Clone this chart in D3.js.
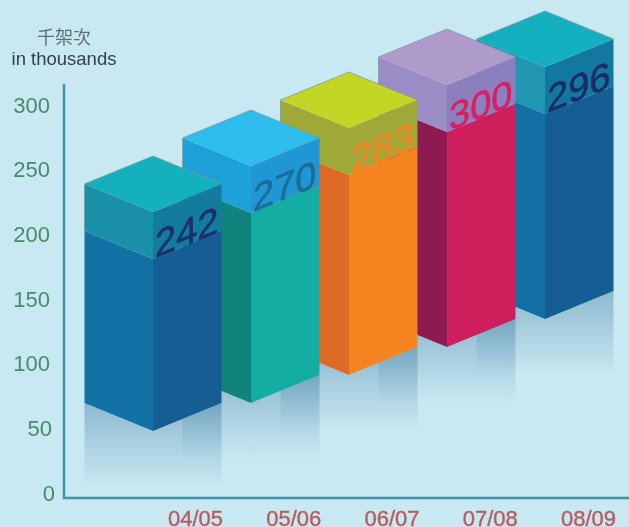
<!DOCTYPE html>
<html>
<head>
<meta charset="utf-8">
<script src="https://cdn.jsdelivr.net/npm/d3@7"></script>
<style>
    html, body { margin: 0; padding: 0; background: #c8e8f2; overflow: hidden; }
    svg { display: block; filter: blur(0.4px); }
    text { font-family: "Liberation Sans", Arial, sans-serif; }
</style>
</head>
<body>
<div id="chart"></div>
<script>
var svgWidth = 629;
var svgHeight = 527;

// Chart data
var categories = ["04/05", "05/06", "06/07", "07/08", "08/09"];
var values = [242, 270, 283, 300, 296];
var yTicks = [0, 50, 100, 150, 200, 250, 300];

// Colours per bar: top, cap left, cap right, body left, body right, label
var topColors = ["#14b0bb", "#2dbcec", "#c2d725", "#af9bcb", "#14b0bf"];
var capLeftColors = ["#1a8fa8", "#1ea0d8", "#9fa935", "#9a8cc4", "#2096b0"];
var capRightColors = ["#137c9c", "#2096d4", "#a0a83a", "#8b7fbd", "#12789f"];
var bodyLeftColors = ["#1271a5", "#10837c", "#dd6b27", "#8e1a52", "#1270a5"];
var bodyRightColors = ["#165d94", "#14ada3", "#f58420", "#cf1e5c", "#155d94"];
var labelColors = ["#1c2e6e", "#176f97", "#f58420", "#d91f62", "#1c2a68"];

var halfWidth = 68.5;
var rise = 28;
var capHeight = 47;
var fadeLength = 83;

var svg = d3.select("#chart")
    .append("svg")
    .attr("width", svgWidth)
    .attr("height", svgHeight);

// The bars step back up the page, so they have their own scales, not the axis one
var xScale = d3.scalePoint().domain(categories).range([153, 545]);
var baseScale = d3.scalePoint().domain(categories).range([431, 319]);
var heightScale = d3.scaleLinear()
    .domain([242, 270, 283, 296, 300])
    .range([219, 237, 247, 252, 262]);
var yScale = d3.scaleLinear().domain([0, 300]).range([493, 105]);
var labelScale = d3.scalePoint().domain(categories).range([195, 588]);

var skew = Math.atan2(-rise, halfWidth) * 180 / Math.PI;

var gradient = svg.append("defs").append("linearGradient")
    .attr("id", "fade")
    .attr("x1", 0).attr("y1", 0)
    .attr("x2", 0).attr("y2", 1);
gradient.append("stop").attr("offset", "0%").attr("stop-color", "#3c78a0").attr("stop-opacity", 0.42);
gradient.append("stop").attr("offset", "100%").attr("stop-color", "#3c78a0").attr("stop-opacity", 0);

function points(list) {
    return list.map(p => p.join(",")).join(" ");
}

var bars = categories.map((c, i) => {
    var mid = xScale(c);
    var frontBase = baseScale(c);
    var frontTop = frontBase - heightScale(values[i]);
    return { i: i, mid: mid, left: mid - halfWidth, right: mid + halfWidth, frontBase: frontBase, frontTop: frontTop, seam: frontTop + capHeight };
});

// Reflections go under all the bars
svg.append("g").selectAll("polygon")
    .data(bars)
    .enter()
    .append("polygon")
    .attr("fill", "url(#fade)")
    .attr("points", d => points([
        [d.left, d.frontBase - rise],
        [d.mid, d.frontBase],
        [d.right, d.frontBase - rise],
        [d.right, d.frontBase - rise + fadeLength],
        [d.left, d.frontBase - rise + fadeLength]
    ]));

// Back bars first, so that each bar covers the one behind it
var barGroups = svg.append("g").selectAll("g")
    .data(bars.slice().reverse())
    .enter()
    .append("g");

function addFace(fill, corners) {
    barGroups.append("polygon")
        .attr("fill", fill)
        .attr("points", d => points(corners(d)));
}

addFace(d => bodyLeftColors[d.i], d => [[d.left, d.seam - rise], [d.mid, d.seam], [d.mid, d.frontBase], [d.left, d.frontBase - rise]]);
addFace(d => bodyRightColors[d.i], d => [[d.mid, d.seam], [d.right, d.seam - rise], [d.right, d.frontBase - rise], [d.mid, d.frontBase]]);
addFace(d => capLeftColors[d.i], d => [[d.left, d.frontTop - rise], [d.mid, d.frontTop], [d.mid, d.seam], [d.left, d.seam - rise]]);
addFace(d => capRightColors[d.i], d => [[d.mid, d.frontTop], [d.right, d.frontTop - rise], [d.right, d.seam - rise], [d.mid, d.seam]]);
addFace(d => topColors[d.i], d => [[d.left, d.frontTop - rise], [d.mid, d.frontTop - 2 * rise], [d.right, d.frontTop - rise], [d.mid, d.frontTop]]);

barGroups.append("polyline")
    .attr("fill", "none")
    .attr("stroke", "#7d9a9f")
    .attr("stroke-width", 0.8)
    .attr("points", d => points([[d.left, d.seam - rise], [d.left, d.frontTop - rise], [d.mid, d.frontTop - 2 * rise], [d.right, d.frontTop - rise]]));

// Value labels lie on the right face, sitting on the seam
barGroups.append("text")
    .attr("transform", d => `translate(${d.mid + 2}, ${d.seam - 1}) skewY(${skew})`)
    .attr("font-size", 38)
    .attr("fill", d => labelColors[d.i])
    .attr("stroke", d => labelColors[d.i])
    .attr("stroke-width", 0.6)
    .text(d => values[d.i]);

// Axes
var leftAxis = d3.axisLeft(yScale).tickValues(yTicks).tickSize(0).tickPadding(0);
var yAxis = svg.append("g")
    .attr("transform", "translate(50, 0)")
    .call(leftAxis);
yAxis.select(".domain").remove();
yAxis.selectAll("text")
    .attr("font-size", 22)
    .attr("fill", "#4a8a6a")
    .attr("style", "font-family: 'Liberation Sans'")
    .attr("dx", d => d === 0 ? 5 : d === 50 ? 2 : 0);

var bottomAxis = d3.axisBottom(labelScale).tickSize(0).tickPadding(0);
var xAxis = svg.append("g")
    .attr("transform", "translate(0, 510)")
    .call(bottomAxis);
xAxis.select(".domain").remove();
xAxis.selectAll("text")
    .attr("font-size", 22)
    .attr("fill", "#b85c5f")
    .attr("stroke", "#b85c5f")
    .attr("stroke-width", 0.4)
    .attr("style", "font-family: 'Liberation Sans'")
    .attr("dy", "0.71em");

svg.append("path")
    .attr("d", d3.line()([[64, 84], [64, 498], [629, 498]]))
    .attr("fill", "none")
    .attr("stroke", "#3f94ad")
    .attr("stroke-width", 2.5);

// Unit title
svg.append("text")
    .attr("x", 64)
    .attr("y", 44)
    .attr("text-anchor", "middle")
    .attr("font-size", 18)
    .attr("fill", "#5f6f75")
    .attr("style", "font-family: 'Noto Sans CJK TC'")
    .text("千架次");

svg.append("text")
    .attr("x", 64)
    .attr("y", 64.5)
    .attr("text-anchor", "middle")
    .attr("font-size", 18.5)
    .attr("fill", "#33424a")
    .text("in thousands");
</script>
</body>
</html>
